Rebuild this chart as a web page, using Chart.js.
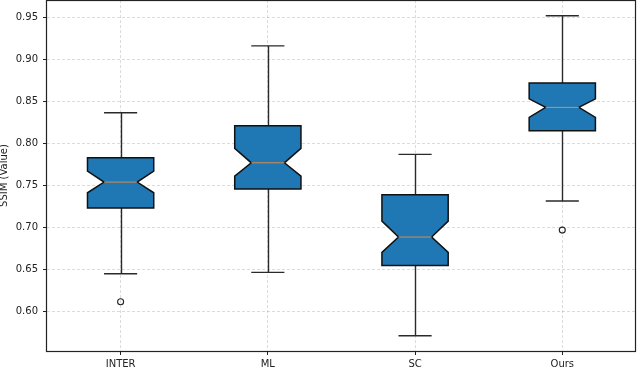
<!DOCTYPE html>
<html>
<head>
<meta charset="utf-8">
<script src="https://cdn.jsdelivr.net/npm/chart.js@4.4.1/dist/chart.umd.min.js"></script>
<style>
  html, body { margin: 0; padding: 0; background: #fff; overflow: hidden; }
  #wrap { width: 640px; height: 371px; overflow: hidden; }
  #ssim_chart { display: block; margin-top: -4px; }
</style>
</head>
<body>
<div id="wrap"><canvas id="ssim_chart" width="640" height="375"></canvas></div>
<script>
// box plot values
const methods = ['INTER', 'ML', 'SC', 'Ours'];
const whiskerLow = [0.6452, 0.6468, 0.5714, 0.7316];
const q1 = [0.7233, 0.7459, 0.6551, 0.8152];
const notchLow = [0.7415, 0.7613, 0.6706, 0.8311];
const medians = [0.7542, 0.7771, 0.6888, 0.8430];
const notchHigh = [0.7673, 0.7943, 0.7078, 0.8532];
const q3 = [0.7831, 0.8211, 0.7391, 0.8719];
const whiskerHigh = [0.8366, 0.9162, 0.7871, 0.9519];
const outliers = [[0.6119], [], [], [0.6971]];
const yTicks = [0.60, 0.65, 0.70, 0.75, 0.80, 0.85, 0.90, 0.95];

const boxWidth = 0.45;

// outlier points go through the scatter dataset
let outlierPoints = [];
for (let i = 0; i < methods.length; i++) {
    for (let j = 0; j < outliers[i].length; j++) {
        outlierPoints.push({ x: i + 1, y: outliers[i][j] });
    }
}

// draws the notched boxes, whiskers and medians with the chart scales
const boxPlugin = {
    id: 'notchedBoxes',
    beforeDatasetsDraw(chart) {
        const ctx = chart.ctx;
        const xs = chart.scales.x;
        const ys = chart.scales.y;
        for (let i = 0; i < methods.length; i++) {
            const pos = i + 1;
            const xl = xs.getPixelForValue(pos - boxWidth / 2);
            const xr = xs.getPixelForValue(pos + boxWidth / 2);
            const xil = xs.getPixelForValue(pos - boxWidth / 4);
            const xir = xs.getPixelForValue(pos + boxWidth / 4);
            const xc = Math.round(xs.getPixelForValue(pos)) + 0.5;

            const yLo = ys.getPixelForValue(whiskerLow[i]);
            const yQ1 = ys.getPixelForValue(q1[i]);
            const yNl = ys.getPixelForValue(notchLow[i]);
            const yMed = ys.getPixelForValue(medians[i]);
            const yNh = ys.getPixelForValue(notchHigh[i]);
            const yQ3 = ys.getPixelForValue(q3[i]);
            const yHi = ys.getPixelForValue(whiskerHigh[i]);

            ctx.save();
            // whiskers and caps
            ctx.strokeStyle = '#2a2a2a';
            ctx.lineWidth = 1.4;
            ctx.beginPath();
            ctx.moveTo(xc, yQ1);
            ctx.lineTo(xc, yLo);
            ctx.moveTo(xc, yQ3);
            ctx.lineTo(xc, yHi);
            ctx.moveTo(xil, yLo);
            ctx.lineTo(xir, yLo);
            ctx.moveTo(xil, yHi);
            ctx.lineTo(xir, yHi);
            ctx.stroke();

            // notched box
            ctx.beginPath();
            ctx.moveTo(xl, yQ1);
            ctx.lineTo(xr, yQ1);
            ctx.lineTo(xr, yNl);
            ctx.lineTo(xir, yMed);
            ctx.lineTo(xr, yNh);
            ctx.lineTo(xr, yQ3);
            ctx.lineTo(xl, yQ3);
            ctx.lineTo(xl, yNh);
            ctx.lineTo(xil, yMed);
            ctx.lineTo(xl, yNl);
            ctx.closePath();
            ctx.fillStyle = '#1f77b4';
            ctx.fill();
            ctx.strokeStyle = '#111';
            ctx.lineWidth = 1.5;
            ctx.stroke();

            // median
            ctx.beginPath();
            ctx.moveTo(xil, yMed);
            ctx.lineTo(xir, yMed);
            ctx.strokeStyle = '#e08a45';
            ctx.lineWidth = 1;
            ctx.stroke();
            ctx.restore();
        }
    },
    afterDraw(chart) {
        // axes frame
        const a = chart.chartArea;
        const ctx = chart.ctx;
        ctx.save();
        ctx.strokeStyle = '#222';
        ctx.lineWidth = 1.2;
        ctx.strokeRect(Math.round(a.left) - 0.5, Math.round(a.top) + 0.5,
            Math.round(a.right - a.left), Math.round(a.bottom - a.top));
        ctx.restore();
    }
};

Chart.defaults.font.family = "'DejaVu Sans', sans-serif";
Chart.defaults.font.size = 10;
Chart.defaults.color = '#222';

const ctx = document.getElementById('ssim_chart').getContext('2d');
const ssim_chart = new Chart(ctx, {
    type: 'scatter',
    data: {
        datasets: [{
            label: 'outliers',
            data: outlierPoints,
            pointRadius: 3,
            pointHoverRadius: 3,
            pointBorderWidth: 1.1,
            borderColor: '#222',
            backgroundColor: 'rgba(0,0,0,0)'
        }]
    },
    options: {
        responsive: false,
        animation: false,
        layout: { padding: { top: 0, right: 2, bottom: 0, left: 0 } },
        plugins: {
            legend: { display: false },
            tooltip: { enabled: false }
        },
        scales: {
            x: {
                type: 'linear',
                min: 0.5,
                max: 4.5,
                afterBuildTicks: (s) => { s.ticks = methods.map((m, i) => ({ value: i + 1 })); },
                afterFit: (s) => { s.height = 20; s.paddingLeft = 0; s.paddingRight = 0; },
                ticks: {
                    padding: 3,
                    maxRotation: 0,
                    callback: (v) => methods[v - 1]
                },
                grid: {
                    color: 'rgba(0,0,0,0.14)',
                    lineWidth: 1,
                    tickLength: 4,
                    tickColor: '#222'
                },
                border: { display: false, dash: [3, 2] }
            },
            y: {
                min: 0.5533,
                max: 0.9706,
                afterBuildTicks: (s) => { s.ticks = yTicks.map(v => ({ value: v })); },
                afterFit: (s) => { s.width = 47; s.paddingTop = 0; s.paddingBottom = 0; },
                ticks: {
                    padding: 5,
                    callback: (v) => v.toFixed(2)
                },
                grid: {
                    color: 'rgba(0,0,0,0.14)',
                    lineWidth: 1,
                    tickLength: 4,
                    tickColor: '#222'
                },
                border: { display: false, dash: [3, 2] },
                title: {
                    display: true,
                    text: 'SSIM (Value)',
                    font: { size: 10, lineHeight: 0.86 },
                    padding: { top: 0, bottom: 0 }
                }
            }
        }
    },
    plugins: [boxPlugin]
});
</script>
</body>
</html>
